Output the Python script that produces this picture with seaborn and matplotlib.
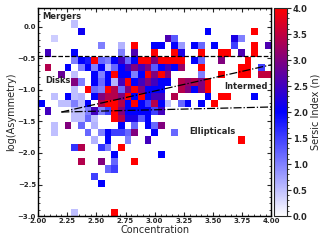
import numpy as np
import pandas as pd
import seaborn as sns
import matplotlib.pyplot as plt
from matplotlib.colors import LinearSegmentedColormap
from matplotlib.ticker import MultipleLocator, AutoMinorLocator

# grid of bins: 35 concentration bins (2.0 - 4.0), 29 log(A) bins from -3.0
c_edges = np.linspace(2.0, 4.0, 36)
a_edges = -3.0 + 0.115 * np.arange(30)

# occupied cells, read row by row (row 0 = bottom), mean Sersic index per cell
bin_row = (
    [26] + [25] * 3 + [24] * 5 + [23] * 13 + [22] * 12 + [21] * 21 + [20] * 22
    + [19] * 20 + [18] * 19 + [17] * 18 + [16] * 20 + [15] * 21 + [14] * 15
    + [13] * 10 + [12] * 9 + [11] * 10 + [10] * 5 + [9] * 5 + [8] * 2
    + [7] * 4 + [6] * 2 + [5] + [4] + [0] * 2
)
bin_col = [
    5,
    6, 25, 32,
    2, 19, 20, 29, 30,
    9, 12, 14, 17, 18, 20, 21, 23, 24, 26, 29, 32, 34,
    1, 5, 12, 14, 17, 20, 21, 24, 27, 28, 30, 32,
    5, 6, 7, 8, 9, 10, 11, 12, 13, 14, 15, 16, 17, 18, 19, 20, 21, 23, 24, 27, 31,
    1, 4, 6, 7, 8, 9, 10, 11, 12, 13, 14, 15, 16, 17, 18, 19, 20, 21, 24, 30, 31, 33,
    3, 5, 8, 9, 10, 11, 12, 13, 14, 15, 16, 17, 18, 19, 24, 27, 30, 31, 33, 34,
    5, 6, 8, 9, 10, 11, 12, 13, 14, 15, 16, 17, 18, 19, 21, 22, 23, 24, 25,
    5, 7, 8, 9, 10, 11, 12, 13, 14, 15, 16, 17, 18, 21, 22, 23, 24, 25,
    2, 4, 5, 6, 8, 9, 10, 11, 12, 13, 14, 15, 16, 17, 18, 20, 25, 27, 28, 32,
    0, 3, 4, 5, 6, 7, 9, 10, 11, 12, 13, 14, 15, 16, 17, 18, 19, 21, 22, 24, 26,
    1, 5, 6, 7, 8, 9, 10, 11, 12, 13, 14, 15, 16, 17, 18,
    5, 6, 7, 8, 11, 12, 13, 14, 15, 16,
    2, 4, 6, 8, 12, 14, 16, 17, 18,
    2, 7, 9, 10, 11, 12, 13, 14, 17, 20,
    8, 10, 13, 16, 30,
    5, 6, 9, 10, 12,
    11, 18,
    6, 9, 11, 14,
    10, 11,
    8,
    9,
    5, 11,
]
sersic_n = [
    0.5,
    2.1, 2.0, 4.0,
    0.4, 2.6, 1.3, 2.2, 1.0,
    1.0, 0.6, 4.0, 2.0, 2.0, 2.0, 0.8, 2.0, 1.2, 2.0, 1.5, 4.0, 2.6,
    2.5, 2.0, 1.0, 2.6, 4.0, 4.0, 2.2, 4.0, 4.0, 4.0, 2.6, 4.0,
    1.0, 2.0, 1.8, 4.0, 1.2, 1.0, 2.0, 2.5, 1.2, 2.0, 4.0, 4.0, 3.0, 4.0, 4.0, 4.0, 4.0, 2.0, 1.2, 3.0, 4.0,
    3.4, 2.0, 1.0, 2.0, 1.0, 2.0, 0.5, 1.2, 2.0, 2.5, 3.0, 2.5, 3.0, 1.3, 2.0, 2.5, 2.0, 3.2, 4.0, 4.0, 4.0, 1.5,
    2.8, 0.5, 2.0, 1.0, 2.0, 4.0, 2.0, 2.0, 1.0, 2.0, 4.0, 3.0, 4.0, 3.0, 1.0, 4.0, 4.0, 4.0, 3.5, 3.5,
    3.0, 1.0, 2.0, 1.2, 2.0, 0.6, 2.5, 4.0, 2.0, 2.5, 3.0, 2.5, 2.0, 2.0, 3.4, 3.2, 3.4, 3.0, 4.0,
    0.5, 4.0, 1.2, 1.0, 4.0, 3.4, 1.2, 3.0, 4.0, 3.0, 2.0, 2.0, 2.0, 3.4, 3.0, 2.0, 3.0, 4.0,
    0.5, 2.0, 0.5, 0.6, 2.0, 3.0, 3.4, 3.4, 3.0, 4.0, 2.0, 4.0, 2.0, 2.5, 2.5, 3.4, 2.0, 4.0, 4.0, 2.0,
    2.0, 0.5, 0.5, 1.0, 0.5, 2.0, 3.4, 4.0, 4.0, 3.4, 2.0, 4.0, 2.0, 1.5, 3.4, 2.0, 0.5, 1.2, 2.0, 2.0, 4.0,
    2.5, 0.5, 0.5, 1.0, 2.5, 1.0, 1.5, 4.0, 3.0, 2.0, 2.0, 2.0, 2.0, 1.5, 2.5,
    0.5, 0.5, 1.2, 0.5, 4.0, 3.4, 2.2, 2.2, 1.3, 2.0,
    0.5, 3.0, 1.2, 0.6, 2.0, 1.2, 2.0, 1.2, 3.0,
    0.5, 1.2, 1.0, 2.0, 1.5, 1.5, 1.2, 3.0, 2.0, 1.2,
    0.6, 2.0, 1.0, 2.5, 4.0,
    1.6, 3.4, 1.6, 1.0, 4.0,
    2.0, 2.0,
    3.4, 3.0, 1.2, 4.0,
    1.2, 1.5,
    1.5,
    2.0,
    0.5, 4.0,
]

# classification boundaries
merger_cut = np.log10(0.35)
disk_line_c = [2.2, 4.0]
disk_line_a = [-1.35, -0.6]
ell_line_c = [2.2, 4.0]
ell_line_a = [-1.35, -1.27]

c_mid = 0.5 * (c_edges[:-1] + c_edges[1:])
a_mid = 0.5 * (a_edges[:-1] + a_edges[1:])
df = pd.DataFrame({
    "conc": c_mid[bin_col],
    "logA": a_mid[bin_row],
    "n": sersic_n,
})

sns.set_style("ticks")
plt.rcParams["font.family"] = ["DejaVu Sans"]

fig = plt.figure(figsize=(3.25, 2.43), dpi=100)
ax = fig.add_axes([0.117, 0.111, 0.718, 0.856])
cax = fig.add_axes([0.843, 0.111, 0.039, 0.856])

cmap = LinearSegmentedColormap.from_list("wbr", ["white", "blue", "red"])
sns.histplot(data=df, x="conc", y="logA", weights="n", bins=(c_edges, a_edges),
             cmap=cmap, vmin=0, vmax=4, cbar=True, cbar_ax=cax, ax=ax)

ax.axhline(merger_cut, color="black", ls="--", lw=0.9)
ax.plot(disk_line_c, disk_line_a, color="black", ls="-.", lw=0.9)
ax.plot(ell_line_c, ell_line_a, color="black", ls="-.", lw=0.9)

ax.text(2.04, 0.17, "Mergers", fontsize=6, fontweight="bold", va="center")
ax.text(2.06, -0.85, "Disks", fontsize=6, fontweight="bold", va="center")
ax.text(3.6, -0.95, "Intermed", fontsize=6, fontweight="bold", va="center")
ax.text(3.3, -1.655, "Ellipticals", fontsize=6, fontweight="bold", va="center")

ax.set_xlim(2.0, 4.0)
ax.set_ylim(-3.0, 0.3)
ax.set_xlabel("Concentration", fontsize=7, labelpad=1)
ax.set_ylabel("log(Asymmetry)", fontsize=7, labelpad=1)
ax.xaxis.set_major_locator(MultipleLocator(0.25))
ax.yaxis.set_major_locator(MultipleLocator(0.5))
ax.xaxis.set_minor_locator(AutoMinorLocator(5))
ax.yaxis.set_minor_locator(AutoMinorLocator(5))
ax.tick_params(which="both", direction="in", top=True, right=True, labelsize=5, pad=1.5)
ax.tick_params(which="major", length=3, width=0.8)
ax.tick_params(which="minor", length=1.5, width=0.6)
for lab in ax.get_xticklabels() + ax.get_yticklabels():
    lab.set_fontweight("bold")
for sp in ax.spines.values():
    sp.set_linewidth(1.0)
    sp.set_color("black")

cax.set_ylabel("Sersic Index (n)", fontsize=7, labelpad=2)
cax.yaxis.set_major_locator(MultipleLocator(0.5))
cax.yaxis.set_minor_locator(AutoMinorLocator(5))
cax.tick_params(which="major", labelsize=6, length=3, width=0.8, pad=1.5)
cax.tick_params(which="minor", length=1.5, width=0.6)
for lab in cax.get_yticklabels():
    lab.set_fontweight("bold")

fig.savefig("out.png", dpi=100)
